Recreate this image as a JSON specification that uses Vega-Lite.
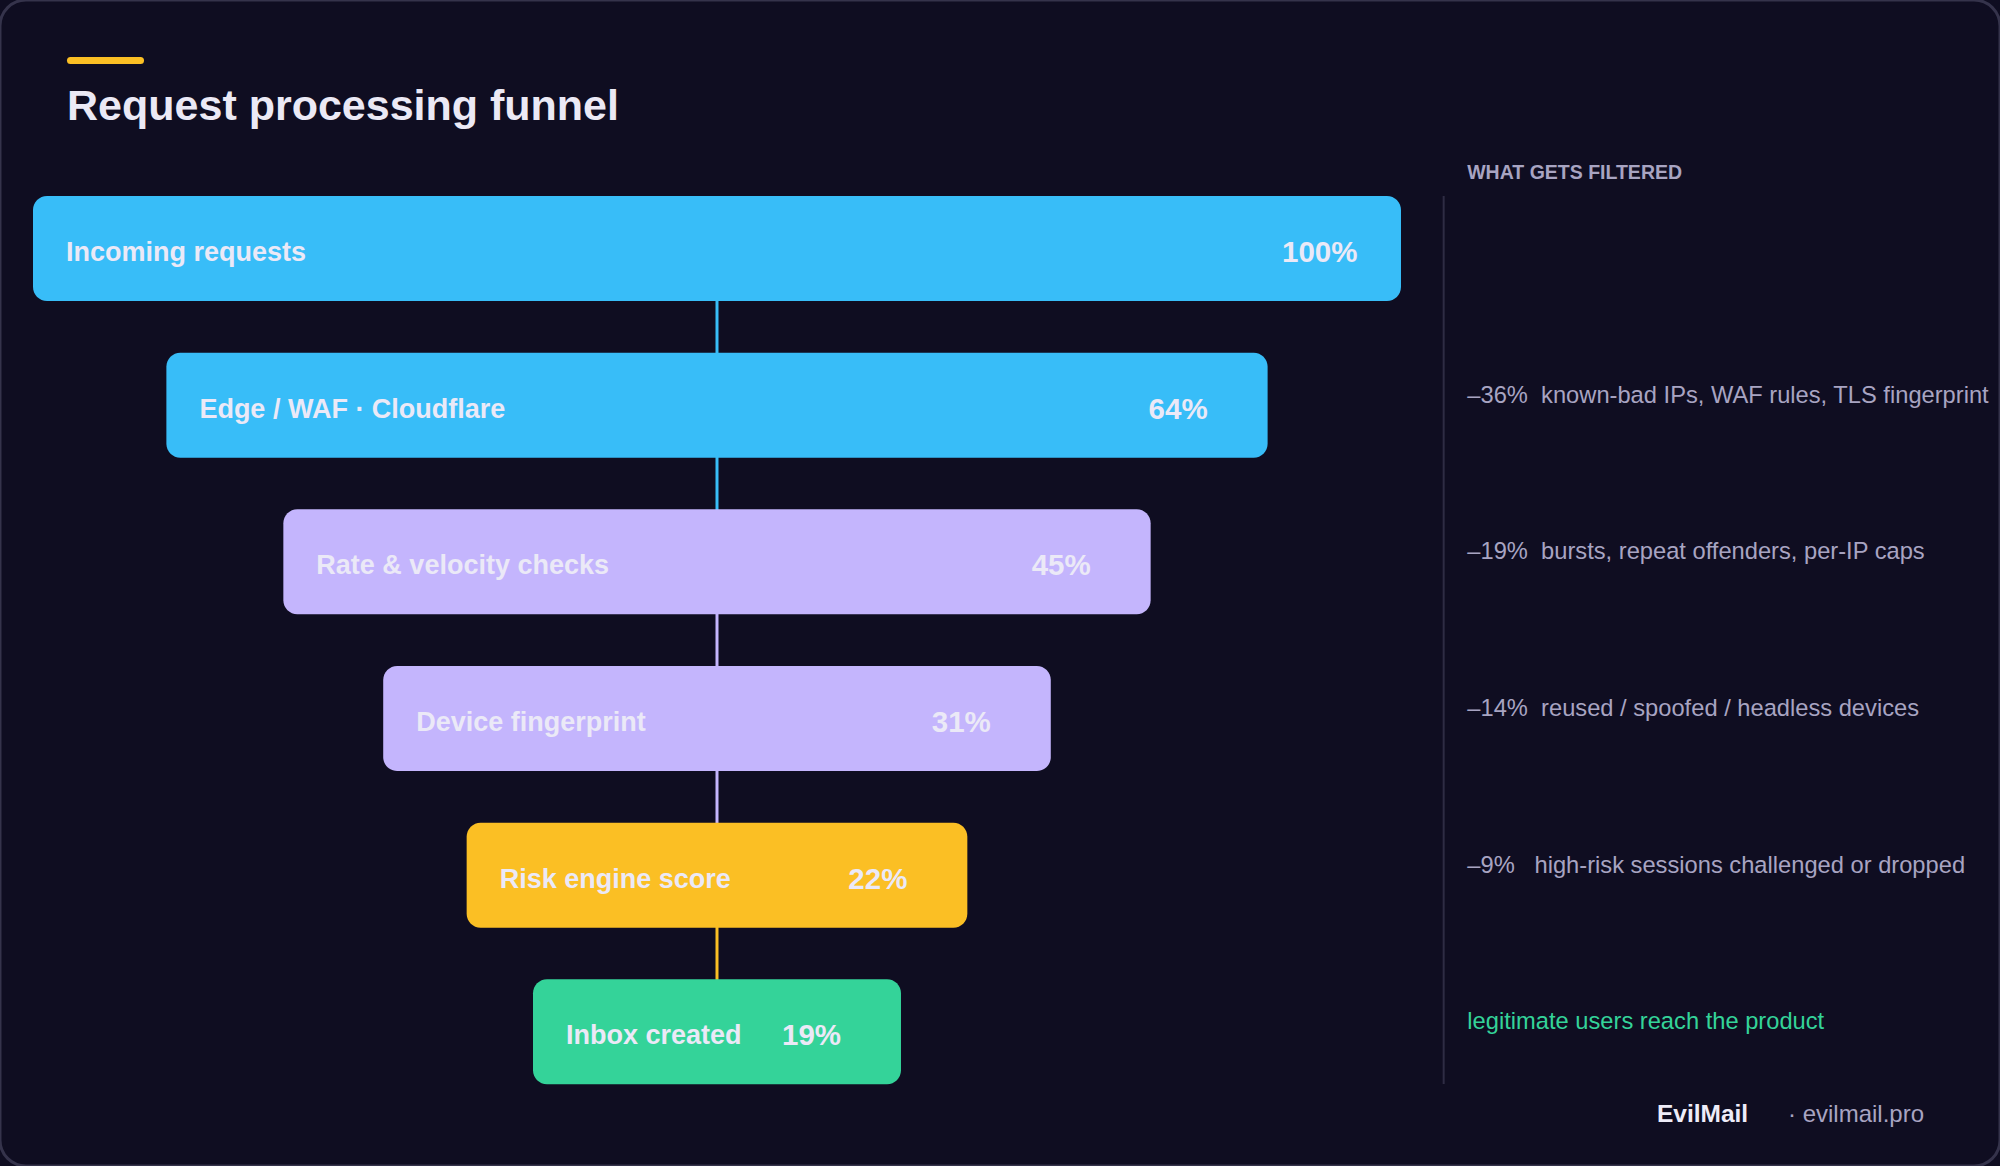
{
  "$schema": "https://vega.github.io/schema/vega-lite/v6.json",
  "width": 2000,
  "height": 1166,
  "autosize": {"type": "fit", "contains": "padding"},
  "padding": 0,
  "background": "#0f0d21",
  "config": {
    "font": "Liberation Sans",
    "scale": {"continuousPadding": 0},
    "view": {"stroke": "#35334b", "strokeWidth": 3, "fill": "#0f0d21", "cornerRadius": 26}
  },
  "data": {
    "values": [
      {"step": 0, "stage": "Incoming requests", "share": 1.0, "group": "network", "x0": -50, "x1": 50, "note": ""},
      {"step": 1, "stage": "Edge / WAF · Cloudflare", "share": 0.64, "group": "network", "x0": -40.25, "x1": 40.25, "note": "–36%\u00a0\u00a0known-bad IPs, WAF rules, TLS fingerprint"},
      {"step": 2, "stage": "Rate & velocity checks", "share": 0.45, "group": "behavior", "x0": -31.7, "x1": 31.7, "note": "–19%\u00a0\u00a0bursts, repeat offenders, per-IP caps"},
      {"step": 3, "stage": "Device fingerprint", "share": 0.31, "group": "behavior", "x0": -24.4, "x1": 24.4, "note": "–14%\u00a0\u00a0reused / spoofed / headless devices"},
      {"step": 4, "stage": "Risk engine score", "share": 0.22, "group": "risk", "x0": -18.3, "x1": 18.3, "note": "–9%\u00a0\u00a0\u00a0high-risk sessions challenged or dropped"},
      {"step": 5, "stage": "Inbox created", "share": 0.19, "group": "pass", "x0": -13.45, "x1": 13.45, "note": "legitimate users reach the product"}
    ]
  },
  "layer": [
    {
      "data": {"values": [{}]},
      "mark": {"type": "rule", "color": "#2e2c44", "strokeWidth": 2},
      "encoding": {
        "x": {"datum": 53.12, "type": "quantitative", "scale": {"type": "linear", "domain": [-52.412, 93.787], "nice": false, "zero": false, "padding": 0}, "axis": null},
        "y": {"datum": -0.3351, "type": "quantitative", "scale": {"type": "linear", "domain": [-1.5862, 5.8563], "nice": false, "zero": false, "reverse": true, "padding": 0}, "axis": null},
        "y2": {"datum": 5.333}
      }
    },
    {
      "transform": [{"filter": "datum.step < 5"}],
      "mark": {"type": "tick", "orient": "vertical", "thickness": 3, "size": 55, "yOffset": 78.33, "opacity": 1},
      "encoding": {
        "x": {"datum": 0, "type": "quantitative", "scale": {"type": "linear", "domain": [-52.412, 93.787], "nice": false, "zero": false, "padding": 0}, "axis": null},
        "y": {"field": "step", "type": "quantitative", "scale": {"type": "linear", "domain": [-1.5862, 5.8563], "nice": false, "zero": false, "reverse": true, "padding": 0}, "axis": null},
        "color": {"field": "group", "type": "nominal", "scale": {"domain": ["network", "behavior", "risk", "pass"], "range": ["#38bdf8", "#c4b5fd", "#fbbf24", "#34d399"]}, "legend": null}
      }
    },
    {
      "mark": {"type": "bar", "orient": "horizontal", "size": 105, "cornerRadius": 14, "opacity": 1},
      "encoding": {
        "x": {"field": "x0", "type": "quantitative", "scale": {"type": "linear", "domain": [-52.412, 93.787], "nice": false, "zero": false, "padding": 0}, "axis": null},
        "x2": {"field": "x1"},
        "y": {"field": "step", "type": "quantitative", "scale": {"type": "linear", "domain": [-1.5862, 5.8563], "nice": false, "zero": false, "reverse": true, "padding": 0}, "axis": null},
        "color": {"field": "group", "type": "nominal", "scale": {"domain": ["network", "behavior", "risk", "pass"], "range": ["#38bdf8", "#c4b5fd", "#fbbf24", "#34d399"]}, "legend": null}
      }
    },
    {
      "mark": {"type": "text", "align": "left", "baseline": "alphabetic", "xOffset": 33, "dy": 12.5, "fontSize": 27, "fontWeight": "bold", "color": "#ebe9f7"},
      "encoding": {
        "x": {"field": "x0", "type": "quantitative", "scale": {"type": "linear", "domain": [-52.412, 93.787], "nice": false, "zero": false, "padding": 0}, "axis": null},
        "y": {"field": "step", "type": "quantitative", "scale": {"type": "linear", "domain": [-1.5862, 5.8563], "nice": false, "zero": false, "reverse": true, "padding": 0}, "axis": null},
        "text": {"field": "stage"}
      }
    },
    {
      "mark": {"type": "text", "align": "left", "baseline": "alphabetic", "xOffset": -119, "dy": 13.5, "fontSize": 29.5, "fontWeight": "bold", "color": "#ebe9f7"},
      "encoding": {
        "x": {"field": "x1", "type": "quantitative", "scale": {"type": "linear", "domain": [-52.412, 93.787], "nice": false, "zero": false, "padding": 0}, "axis": null},
        "y": {"field": "step", "type": "quantitative", "scale": {"type": "linear", "domain": [-1.5862, 5.8563], "nice": false, "zero": false, "reverse": true, "padding": 0}, "axis": null},
        "text": {"field": "share", "type": "quantitative", "format": ".0%"}
      }
    },
    {
      "mark": {"type": "text", "align": "left", "baseline": "alphabetic", "dy": -2.5, "fontSize": 23.7},
      "encoding": {
        "x": {"datum": 54.85, "type": "quantitative", "scale": {"type": "linear", "domain": [-52.412, 93.787], "nice": false, "zero": false, "padding": 0}, "axis": null},
        "y": {"field": "step", "type": "quantitative", "scale": {"type": "linear", "domain": [-1.5862, 5.8563], "nice": false, "zero": false, "reverse": true, "padding": 0}, "axis": null},
        "text": {"field": "note"},
        "color": {"condition": {"test": "datum.group === 'pass'", "value": "#34d399"}, "value": "#a8a4c2"}
      }
    },
    {
      "data": {"values": [{}]},
      "mark": {"type": "rule", "color": "#fbbf24", "strokeWidth": 7, "strokeCap": "round"},
      "encoding": {
        "x": {"datum": -47.26, "type": "quantitative", "scale": {"type": "linear", "domain": [-52.412, 93.787], "nice": false, "zero": false, "padding": 0}, "axis": null},
        "x2": {"datum": -42.14},
        "y": {"datum": -1.2, "type": "quantitative", "scale": {"type": "linear", "domain": [-1.5862, 5.8563], "nice": false, "zero": false, "reverse": true, "padding": 0}, "axis": null}
      }
    },
    {
      "data": {"values": [{}]},
      "mark": {"type": "text", "text": "Request processing funnel", "align": "left", "baseline": "alphabetic", "fontSize": 43, "fontWeight": "bold", "color": "#ebe9f5"},
      "encoding": {
        "x": {"datum": -47.51, "type": "quantitative", "scale": {"type": "linear", "domain": [-52.412, 93.787], "nice": false, "zero": false, "padding": 0}, "axis": null},
        "y": {"datum": -0.8202, "type": "quantitative", "scale": {"type": "linear", "domain": [-1.5862, 5.8563], "nice": false, "zero": false, "reverse": true, "padding": 0}, "axis": null}
      }
    },
    {
      "data": {"values": [{}]},
      "mark": {"type": "text", "text": "WHAT GETS FILTERED", "align": "left", "baseline": "alphabetic", "fontSize": 19.5, "fontWeight": "bold", "color": "#a8a4c2"},
      "encoding": {
        "x": {"datum": 54.84, "type": "quantitative", "scale": {"type": "linear", "domain": [-52.412, 93.787], "nice": false, "zero": false, "padding": 0}, "axis": null},
        "y": {"datum": -0.4436, "type": "quantitative", "scale": {"type": "linear", "domain": [-1.5862, 5.8563], "nice": false, "zero": false, "reverse": true, "padding": 0}, "axis": null}
      }
    },
    {
      "data": {"values": [{}]},
      "mark": {"type": "text", "text": "EvilMail", "align": "left", "baseline": "alphabetic", "fontSize": 24.5, "fontWeight": "bold", "color": "#eeecf8"},
      "encoding": {
        "x": {"datum": 68.71, "type": "quantitative", "scale": {"type": "linear", "domain": [-52.412, 93.787], "nice": false, "zero": false, "padding": 0}, "axis": null},
        "y": {"datum": 5.5755, "type": "quantitative", "scale": {"type": "linear", "domain": [-1.5862, 5.8563], "nice": false, "zero": false, "reverse": true, "padding": 0}, "axis": null}
      }
    },
    {
      "data": {"values": [{}]},
      "mark": {"type": "text", "text": "· evilmail.pro", "align": "left", "baseline": "alphabetic", "fontSize": 24, "color": "#a8a4c2"},
      "encoding": {
        "x": {"datum": 78.29, "type": "quantitative", "scale": {"type": "linear", "domain": [-52.412, 93.787], "nice": false, "zero": false, "padding": 0}, "axis": null},
        "y": {"datum": 5.5755, "type": "quantitative", "scale": {"type": "linear", "domain": [-1.5862, 5.8563], "nice": false, "zero": false, "reverse": true, "padding": 0}, "axis": null}
      }
    }
  ]
}
